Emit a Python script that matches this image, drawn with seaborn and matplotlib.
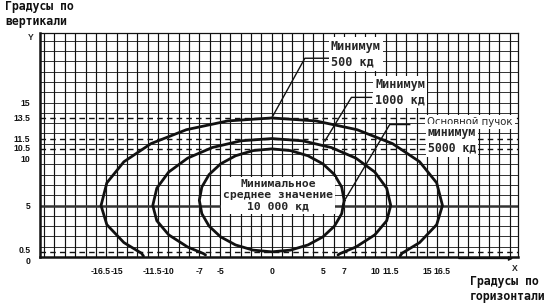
import matplotlib
matplotlib.use("Agg")
import matplotlib.pyplot as plt
import matplotlib.transforms as mtransforms
import seaborn as sns
import pandas as pd

# ---- data (degrees) ----
outer_x = [-12.4, -12.6, -14.29, -15.94, -16.5, -15.94, -14.29, -11.67, -8.25, -4.27, 0.0,
           4.27, 8.25, 11.67, 14.29, 15.94, 16.5, 15.94, 14.29, 12.6, 12.4]
outer_y = [0.1, 0.37, 1.4, 3.14, 5.0, 7.2, 9.25, 11.01, 12.36, 13.21, 13.5,
           13.21, 12.36, 11.01, 9.25, 7.2, 5.0, 3.14, 1.4, 0.37, 0.1]

middle_x = [-6.4, -6.6, -8.13, -9.96, -11.11, -11.5, -11.11, -9.96, -8.13, -5.75, -2.98, 0.0,
            2.98, 5.75, 8.13, 9.96, 11.11, 11.5, 11.11, 9.96, 8.13, 6.6, 6.4]
middle_y = [0.2, 0.33, 0.97, 2.15, 3.52, 5.0, 6.68, 8.25, 9.6, 10.63, 11.28, 11.5,
            11.28, 10.63, 9.6, 8.25, 6.68, 5.0, 3.52, 2.15, 0.97, 0.33, 0.2]

inner_x = [7.0, 6.76, 6.06, 4.95, 3.5, 1.81, 0.0, -1.81, -3.5, -4.95, -6.06, -6.76, -7.0,
           -6.76, -6.06, -4.95, -3.5, -1.81, 0.0, 1.81, 3.5, 4.95, 6.06, 6.76, 7.0]
inner_y = [5.5, 6.79, 8.0, 9.04, 9.83, 10.33, 10.5, 10.33, 9.83, 9.04, 8.0, 6.79, 5.5,
           4.21, 3.0, 1.96, 1.17, 0.67, 0.5, 0.67, 1.17, 1.96, 3.0, 4.21, 5.5]

x_ticks = [-16.5, -15, -11.5, -10, -7, -5, 0, 5, 7, 10, 11.5, 15, 16.5]
x_tick_labels = ["-16.5", "-15", "-11.5", "-10", "-7", "-5", "0", "5", "7",
                 "10", "11.5", "15", "16.5"]
y_ticks = [0, 0.5, 5, 10, 10.5, 11.5, 13.5, 15]
y_tick_labels = ["0", "0.5", "5", "10", "10.5", "11.5", "13.5", "15"]

label_500 = "Минимум\n500 кд"
label_1000 = "Минимум\n1000 кд"
label_5000_title = "Основной пучок"
label_5000 = "минимум\n5000 кд"
label_10000 = "Минимальное\nсреднее значение\n10 000 кд"
x_title = "Градусы по\nгоризонтали"
y_title = "Градусы по\nвертикали"

curves = pd.concat([
    pd.DataFrame({"curve": "500", "order": range(len(outer_x)), "x": outer_x, "y": outer_y}),
    pd.DataFrame({"curve": "1000", "order": range(len(middle_x)), "x": middle_x, "y": middle_y}),
    pd.DataFrame({"curve": "5000", "order": range(len(inner_x)), "x": inner_x, "y": inner_y}),
], ignore_index=True)

# ---- style ----
sns.set_style("white")
plt.rcParams["font.family"] = ["DejaVu Sans"]

fig = plt.figure(figsize=(5.59, 3.06), dpi=100)
ax = fig.add_axes([40 / 559, 49 / 306, 478 / 559, 224 / 306])
XMIN, XMAX, YMIN, YMAX = -22.4, 23.8, 0.0, 21.75
ax.set_xlim(XMIN, XMAX)
ax.set_ylim(YMIN, YMAX)

ink = "#111111"
# graph-paper grid
ax.vlines(range(-22, 24), YMIN, YMAX, color=ink, lw=0.85, zorder=1)
ax.hlines([v for v in range(1, 22) if v != 5], XMIN, XMAX, color=ink, lw=0.6, zorder=1)
ax.hlines([5], XMIN, XMAX, color="#333333", lw=1.8, zorder=1)
ax.hlines([0.5, 10.5, 11.5, 13.5], XMIN, XMAX, color=ink, lw=1.0,
          linestyles=(0, (4, 3)), zorder=1)

# curves
for name, grp in curves.groupby("curve", sort=False):
    sns.lineplot(data=grp, x="x", y="y", sort=False, estimator=None, color=ink,
                 lw=2.0, ax=ax, zorder=3, legend=False)

# leader lines
lk = dict(color=ink, lw=1.0, zorder=4, solid_capstyle="butt")
ax.plot([0.0, 3.2, 5.6], [13.5, 19.3, 19.3], **lk)
ax.plot([5.1, 7.7, 9.7], [11.2, 15.5, 15.5], **lk)
ax.plot([7.1, 11.4, 13.4], [5.6, 12.86, 12.86], **lk)

mono = ["DejaVu Sans Mono", "DejaVu Sans"]
box = dict(facecolor="white", edgecolor="none", pad=1.5)
ax.text(5.7, 19.7, label_500, family=mono, weight="bold", fontsize=8.5,
        ha="left", va="center", linespacing=1.3, bbox=box, zorder=5)
ax.text(10.0, 16.0, label_1000, family=mono, weight="bold", fontsize=8.5,
        ha="left", va="center", linespacing=1.2, bbox=box, zorder=5)
ax.text(15.0, 13.1, label_5000_title, family=["DejaVu Sans"], fontsize=7.3,
        ha="left", va="center", bbox=box, zorder=5)
ax.text(15.1, 11.3, label_5000, family=mono, weight="bold", fontsize=8.3,
        ha="left", va="center", linespacing=1.25, bbox=box, zorder=5)
ax.text(0.6, 6.0, label_10000, family=mono, weight="bold", fontsize=8.2,
        ha="center", va="center", linespacing=1.2, bbox=box, zorder=5)

# axes
for s in ["top", "right"]:
    ax.spines[s].set_linewidth(0.9)
    ax.spines[s].set_color(ink)
for s in ["left", "bottom"]:
    ax.spines[s].set_linewidth(1.8)
    ax.spines[s].set_color(ink)

tickfont = dict(family=["Liberation Sans", "DejaVu Sans"], weight="bold", size=6.2)
ax.set_xticks(x_ticks)
ax.set_xticklabels(x_tick_labels, fontdict=tickfont)
ax.set_yticks(y_ticks)
ax.set_yticklabels(y_tick_labels, fontdict=tickfont)
ax.tick_params(axis="both", direction="out", length=4, width=1.0, color=ink,
               labelcolor=ink, pad=3)
ax.tick_params(axis="x", pad=3)
ax.set_xlabel("")
ax.set_ylabel("")

# nudge crowded y labels apart (as in the reference)
nudges = {"0": -2.5, "0.5": 2.0, "10": -3.0, "10.5": 1.0}
for lab in ax.get_yticklabels():
    dy = nudges.get(lab.get_text())
    if dy:
        lab.set_transform(lab.get_transform() +
                          mtransforms.ScaledTranslation(0, dy / 72, fig.dpi_scale_trans))

ax.text(23.5, -1.1, "X", ha="center", va="center", clip_on=False, fontdict=tickfont)
ax.text(-23.3, 21.3, "Y", ha="center", va="center", clip_on=False, fontdict=tickfont)
ax.annotate("", xy=(23.6, -0.15), xytext=(17.8, -0.15), annotation_clip=False,
            arrowprops=dict(arrowstyle="-|>", lw=0.9, color=ink, mutation_scale=6))

fig.text(5 / 559, 1 - 14 / 306, y_title, family=mono, weight="bold", fontsize=8.3,
         ha="left", va="center", linespacing=1.15, color=ink)
fig.text(470 / 559, 1 - 289 / 306, x_title, family=mono, weight="bold", fontsize=8.3,
         ha="left", va="center", linespacing=1.15, color=ink)

fig.savefig("out.png", dpi=100, facecolor="white")
